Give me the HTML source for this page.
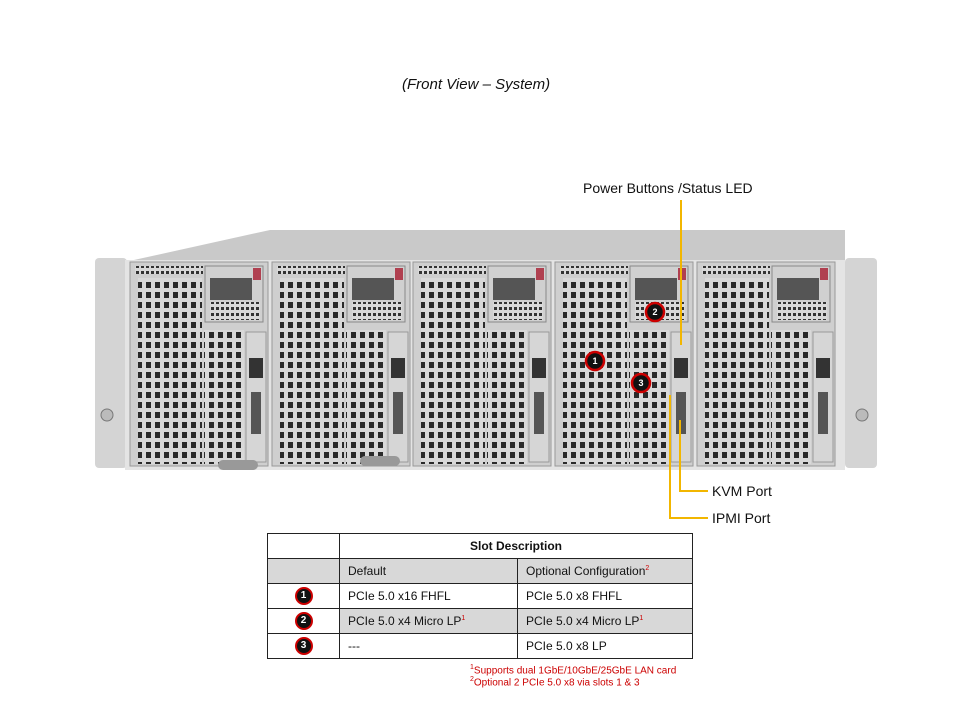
<!DOCTYPE html>
<html><head><meta charset="utf-8"><style>
body{margin:0;background:#fff;width:960px;height:720px;position:relative;overflow:hidden;font-family:"Liberation Sans",sans-serif}
.t{position:absolute;font-size:14px;color:#111}
table{position:absolute;left:267px;top:533px;border-collapse:collapse;font-size:12px;color:#111}
td{border:1px solid #222;height:24px;padding:0 0 0 8px}
.g td{background:#d8d8d8}
.b{display:inline-block;width:18px;height:18px;border-radius:50%;background:#111;border:2px solid #c00;box-sizing:border-box;color:#fff;font-size:10px;font-weight:bold;text-align:center;line-height:14px}
sup{color:#c00;font-size:7px}
.fn{position:absolute;left:470px;font-size:10px;color:#c00}
</style></head><body>
<div class="t" style="left:402px;top:76px;font-style:italic;font-size:15px">(Front View – System)</div>
<div class="t" style="left:583px;top:180px">Power Buttons /Status LED</div>
<div class="t" style="left:712px;top:483px">KVM Port</div>
<div class="t" style="left:712px;top:510px">IPMI Port</div>
<svg width="960" height="720" style="position:absolute;left:0;top:0">
<defs>
<pattern id="gr" width="9" height="10" patternUnits="userSpaceOnUse"><rect width="9" height="10" fill="#d9d9d9"/><rect x="2" y="2" width="5" height="6" fill="#2a2a2a"/></pattern>
<pattern id="gs" width="5" height="6" patternUnits="userSpaceOnUse"><rect width="5" height="6" fill="#d9d9d9"/><rect x="1" y="1" width="3" height="3" fill="#333"/></pattern>
</defs>
<polygon points="125,262 270,230 845,230 845,262" fill="#c9c9c9"/>
<rect x="95" y="258" width="32" height="210" fill="#d4d4d4" rx="4"/>
<rect x="845" y="258" width="32" height="210" fill="#d4d4d4" rx="4"/>
<rect x="125" y="260" width="720" height="210" fill="#e4e4e4"/>
<g id="n">
<rect x="130" y="262" width="138" height="204" fill="#cfcfcf" stroke="#999"/>
<rect x="135" y="266" width="68" height="8" fill="url(#gs)"/>
<rect x="138" y="278" width="64" height="186" fill="url(#gr)"/>
<rect x="205" y="266" width="58" height="56" fill="#d0d0d0" stroke="#888"/>
<rect x="210" y="278" width="42" height="22" fill="#555"/>
<rect x="210" y="302" width="50" height="18" fill="url(#gs)"/>
<rect x="253" y="268" width="8" height="12" fill="#b04050"/>
<rect x="204" y="330" width="40" height="134" fill="url(#gr)"/>
<rect x="246" y="332" width="20" height="130" fill="#d6d6d6" stroke="#999"/>
<rect x="249" y="358" width="14" height="20" fill="#333"/>
<rect x="251" y="392" width="10" height="42" fill="#555"/>
</g>
<use href="#n" x="142"/><use href="#n" x="283"/><use href="#n" x="425"/><use href="#n" x="567"/>
<rect x="218" y="460" width="40" height="10" rx="5" fill="#999"/>
<rect x="360" y="456" width="40" height="10" rx="5" fill="#999"/>
<circle cx="107" cy="415" r="6" fill="#bbb" stroke="#777"/>
<circle cx="862" cy="415" r="6" fill="#bbb" stroke="#777"/>
<g fill="none" stroke="#f2b600" stroke-width="2">
<polyline points="681,200 681,345"/>
<polyline points="680,420 680,491 708,491"/>
<polyline points="670,395 670,518 708,518"/>
</g>
<g font-family="Liberation Sans" font-size="9" font-weight="bold" fill="#fff" text-anchor="middle">
<circle cx="595" cy="361" r="9" fill="#111" stroke="#c00" stroke-width="2.5"/><text x="595" y="364">1</text>
<circle cx="655" cy="312" r="9" fill="#111" stroke="#c00" stroke-width="2.5"/><text x="655" y="315">2</text>
<circle cx="641" cy="383" r="9" fill="#111" stroke="#c00" stroke-width="2.5"/><text x="641" y="386">3</text>
</g>
</svg>
<table>
<tr><td style="width:63px"></td><td colspan="2" style="text-align:center;font-weight:bold;padding:0">Slot Description</td></tr>
<tr class="g"><td></td><td style="width:169px">Default</td><td style="width:166px">Optional Configuration<sup>2</sup></td></tr>
<tr><td style="text-align:center;padding:0"><span class="b">1</span></td><td>PCIe 5.0 x16 FHFL</td><td>PCIe 5.0 x8 FHFL</td></tr>
<tr class="g"><td style="text-align:center;padding:0;background:#fff"><span class="b">2</span></td><td>PCIe 5.0 x4 Micro LP<sup>1</sup></td><td>PCIe 5.0 x4 Micro LP<sup>1</sup></td></tr>
<tr><td style="text-align:center;padding:0"><span class="b">3</span></td><td>---</td><td>PCIe 5.0 x8 LP</td></tr>
</table>
<div class="fn" style="top:664px"><sup>1</sup>Supports dual 1GbE/10GbE/25GbE LAN card</div>
<div class="fn" style="top:676px"><sup>2</sup>Optional 2 PCIe 5.0 x8 via slots 1 &amp; 3</div>
</body></html>
